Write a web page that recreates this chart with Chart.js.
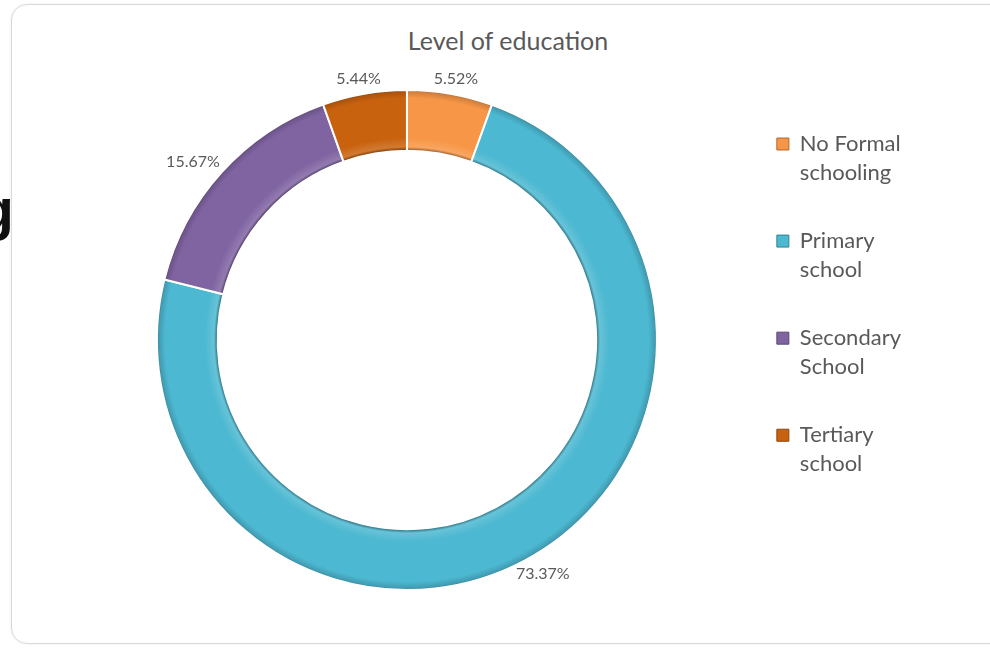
<!DOCTYPE html>
<html lang="en">
<head>
  <meta charset="UTF-8" />
  <title>Level of education</title>
  <script src="https://cdn.jsdelivr.net/npm/chart.js"></script>
  <style>
    body {
      margin: 0;
      width: 990px;
      height: 648px;
      overflow: hidden;
      background: #fff;
      font-family: Lato, "Open Sans", sans-serif;
    }
    #card {
      position: absolute;
      left: 11px;
      top: 4px;
      width: 1000px;
      height: 638px;
      border: 1px solid #d9d9d9;
      border-radius: 16px;
      box-shadow: 0 0 3px rgba(0, 0, 0, 0.08);
    }
    #stray {
      position: absolute;
      left: -21px;
      top: 181px;
      font: bold 57px "Liberation Sans", Arial, sans-serif;
      line-height: 57px;
      color: #111;
    }
    #title {
      position: absolute;
      left: 0;
      width: 1016px;
      top: 25px;
      text-align: center;
      font-size: 25px;
      line-height: 30px;
      color: #595959;
    }
    canvas {
      position: absolute;
      left: 0;
      top: 0;
    }
  </style>
</head>
<body>
  <div id="stray">g</div>
  <div id="card"></div>
  <div id="title">Level of education</div>
  <canvas id="eduChart" width="990" height="648"></canvas>

  <script>
    const categories = [["No Formal", "schooling"], ["Primary", "school"], ["Secondary", "School"], ["Tertiary", "school"]];
    const shares = [5.52, 73.37, 15.67, 5.44];
    const sliceColors = ["#F79646", "#4CB8D1", "#8064A2", "#C9620F"];

    // mix a hex colour towards black (amt < 0) or white (amt > 0)
    function tint(hex, amt) {
      const n = parseInt(hex.slice(1), 16);
      let rgb = [n >> 16, (n >> 8) & 255, n & 255];
      rgb = rgb.map(c => Math.round(amt < 0 ? c * (1 + amt) : c + (255 - c) * amt));
      return `rgb(${rgb[0]}, ${rgb[1]}, ${rgb[2]})`;
    }

    // bevel-ish look: dark rims, light band just inside them
    function bevel(context) {
      const base = sliceColors[context.dataIndex];
      const area = context.chart.chartArea;
      if (!area) return base;
      const cx = (area.left + area.right) / 2;
      const cy = (area.top + area.bottom) / 2;
      const R = Math.min(area.right - area.left, area.bottom - area.top) / 2;
      const r = R * 0.757;
      const g = context.chart.ctx.createRadialGradient(cx, cy, r, cx, cy, R);
      g.addColorStop(0, tint(base, -0.35));
      g.addColorStop(0.05, tint(base, 0.15));
      g.addColorStop(0.2, base);
      g.addColorStop(0.85, base);
      g.addColorStop(0.95, tint(base, -0.15));
      g.addColorStop(1, tint(base, -0.45));
      return g;
    }

    const outsideLabels = {
      id: "outsideLabels",
      afterDatasetsDraw(chart) {
        const ctx = chart.ctx;
        const meta = chart.getDatasetMeta(0);
        ctx.save();
        ctx.font = "16px Lato, sans-serif";
        ctx.fillStyle = "#595959";
        ctx.textAlign = "center";
        ctx.textBaseline = "middle";
        meta.data.forEach((arc, i) => {
          const p = arc.getProps(["x", "y", "startAngle", "endAngle", "outerRadius"], true);
          const mid = (p.startAngle + p.endAngle) / 2;
          const text = shares[i].toFixed(2) + "%";
          const w = ctx.measureText(text).width;
          const ax = p.x + (p.outerRadius + 12) * Math.cos(mid);
          const ay = p.y + (p.outerRadius + 12) * Math.sin(mid);
          ctx.fillText(text, ax + w / 2 * Math.cos(mid), ay + 3 * Math.sin(mid));
        });
        ctx.restore();
      }
    };

    new Chart(document.getElementById("eduChart"), {
      type: "doughnut",
      data: {
        labels: categories,
        datasets: [{
          data: shares,
          backgroundColor: bevel,
          borderColor: "#ffffff",
          borderWidth: 2,
          hoverOffset: 0
        }]
      },
      options: {
        responsive: false,
        animation: false,
        cutout: "75.7%",
        layout: { padding: { left: 76, right: 79, top: 89, bottom: 57 } },
        plugins: {
          tooltip: { enabled: false },
          legend: {
            position: "right",
            align: "start",
            // empty title only used to push the items down a little
            title: { display: true, text: " ", padding: { top: 4, bottom: 0 }, font: { size: 1, lineHeight: 1 } },
            labels: {
              boxWidth: 12,
              boxHeight: 12,
              padding: 39,
              color: "#595959",
              font: { family: "Lato", size: 22, lineHeight: 1.32 },
              generateLabels: chart => categories.map((c, i) => ({
                text: c,
                fillStyle: sliceColors[i],
                strokeStyle: tint(sliceColors[i], -0.3),
                lineWidth: 1,
                fontColor: "#595959",
                index: i
              }))
            }
          }
        }
      },
      plugins: [outsideLabels]
    });
  </script>
</body>
</html>
